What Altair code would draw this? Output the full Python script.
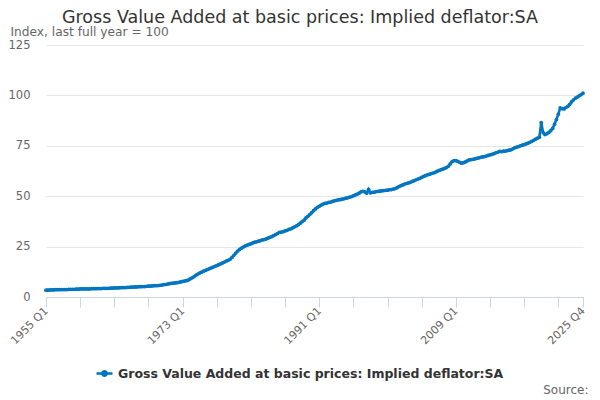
import altair as alt
import pandas as pd

# Quarterly values, one row of four per year (1955 .. 2025)
years = list(range(1955, 2026))
values_by_year = [
    [3.4, 3.4, 3.5, 3.5], [3.5, 3.6, 3.6, 3.6], [3.7, 3.7, 3.7, 3.7], [3.8, 3.8, 3.8, 3.8],
    [3.9, 3.9, 4.0, 4.0], [4.0, 4.0, 4.0, 4.0], [4.1, 4.1, 4.1, 4.2], [4.2, 4.2, 4.3, 4.3],
    [4.3, 4.3, 4.4, 4.4], [4.5, 4.5, 4.5, 4.6], [4.6, 4.7, 4.7, 4.8], [4.8, 4.9, 4.9, 5.0],
    [5.0, 5.1, 5.1, 5.2], [5.2, 5.3, 5.4, 5.4], [5.5, 5.6, 5.6, 5.7], [5.8, 5.9, 6.1, 6.2],
    [6.4, 6.6, 6.7, 6.9], [7.0, 7.1, 7.3, 7.5], [7.7, 7.9, 8.1, 8.4], [9.0, 9.5, 10.1, 10.8],
    [11.4, 11.9, 12.3, 12.8], [13.2, 13.6, 14.0, 14.4], [14.8, 15.2, 15.6, 16.0], [16.4, 16.9, 17.3, 17.8],
    [18.2, 18.7, 19.6, 20.7], [21.8, 22.8, 23.6, 24.3], [24.8, 25.3, 25.7, 26.1], [26.4, 26.8, 27.2, 27.4],
    [27.7, 28.0, 28.3, 28.5], [28.8, 29.2, 29.6, 30.0], [30.5, 31.0, 31.5, 32.1], [32.2, 32.4, 32.8, 33.1],
    [33.5, 33.8, 34.3, 34.8], [35.3, 35.9, 36.6, 37.4], [38.1, 39.2, 40.0, 40.9], [41.8, 42.8, 43.7, 44.5],
    [45.0, 45.6, 46.1, 46.5], [46.6, 46.9, 47.1, 47.4], [47.7, 47.9, 48.2, 48.3], [48.6, 48.7, 49.0, 49.2],
    [49.5, 49.8, 50.2, 50.6], [51.0, 51.5, 52.2, 52.4], [52.2, 51.5, 53.4, 51.7], [51.9, 52.0, 52.3, 52.4],
    [52.5, 52.7, 52.8, 52.9], [53.0, 53.2, 53.3, 53.5], [53.8, 54.2, 54.8, 55.2], [55.6, 56.0, 56.3, 56.6],
    [56.9, 57.3, 57.7, 58.1], [58.5, 58.9, 59.3, 59.8], [60.2, 60.6, 60.8, 61.2], [61.5, 61.8, 62.3, 62.7],
    [63.1, 63.4, 63.8, 64.2], [64.8, 66.0, 67.2, 67.6], [67.7, 67.3, 66.8, 66.4], [66.6, 67.0, 67.5, 68.0],
    [68.2, 68.3, 68.5, 68.8], [69.0, 69.3, 69.5, 69.6], [69.9, 70.2, 70.5, 70.7], [71.1, 71.5, 71.8, 72.2],
    [72.1, 72.3, 72.4, 72.6], [72.8, 73.0, 73.5, 74.0], [74.3, 74.6, 75.0, 75.3], [75.6, 75.9, 76.3, 76.7],
    [77.2, 77.7, 78.3, 78.8], [79.2, 86.5, 81.5, 80.6], [81.0, 81.6, 82.5, 83.6], [85.7, 88.0, 90.7, 93.8],
    [93.4, 93.3, 94.0, 94.6], [95.6, 96.8, 97.8, 98.6], [99.2, 99.8, 100.4, 101.1],
]
series_name = 'Gross Value Added at basic prices: Implied deflator:SA'
label_quarters = ['1955 Q1', '1973 Q1', '1991 Q1', '2009 Q1', '2025 Q4']
y_ticks = [0, 25, 50, 75, 100, 125]

quarters, vals = [], []
for yr, row in zip(years, values_by_year):
    for q, v in enumerate(row, start=1):
        quarters.append(f'{yr} Q{q}')
        vals.append(v)

df = pd.DataFrame({'quarter': quarters, 'value': vals, 'series': series_name})

tick_quarters = quarters[::18] + [quarters[-1]]
label_expr = "indexof(" + str(label_quarters) + ", datum.value) >= 0 ? datum.value : ''"

blue = '#0076c0'
legend_symbol = 'M-1,0H1M-0.28,0a0.28,0.28 0 1,0 0.56,0a0.28,0.28 0 1,0 -0.56,0'

chart = alt.Chart(df).mark_line(
    strokeWidth=2.6,
    point=alt.OverlayMarkDef(filled=True, size=14, color=blue)
).encode(
    x=alt.X('quarter:O', sort=None,
            scale=alt.Scale(type='point', padding=0),
            axis=alt.Axis(values=tick_quarters, labelExpr=label_expr,
                          labelAngle=-45, labelAlign='right', labelBaseline='middle',
                          labelColor='#666', labelFontSize=11, labelPadding=2,
                          tickColor='#ccd6eb', tickSize=10, domainColor='#ccd6eb',
                          labelOverlap=False,
                          title='Source:', titleX=542, titleY=96, titleAlign='right',
                          titleBaseline='alphabetic',
                          titleFontWeight='normal', titleColor='#666',
                          titleFontSize=12)),
    y=alt.Y('value:Q', scale=alt.Scale(domain=[0, 125], nice=False),
            axis=alt.Axis(values=y_ticks, domain=False, ticks=False,
                          gridColor='#e6e6e6', labelColor='#666', labelFontSize=11.5,
                          labelPadding=16,
                          title='Index, last full year = 100', titleAngle=0,
                          titleAlign='left', titleBaseline='alphabetic',
                          titleX=-36, titleY=-10, titleFontWeight='normal',
                          titleColor='#666', titleFontSize=12.2)),
    color=alt.Color('series:N', scale=alt.Scale(range=[blue]),
                    legend=alt.Legend(title=None, orient='none', legendX=49, legendY=319,
                                      symbolType=legend_symbol, symbolSize=256,
                                      symbolStrokeWidth=2.4, symbolFillColor=blue,
                                      labelFontSize=12.5, labelFontWeight='bold',
                                      labelColor='#333', labelLimit=500))
).properties(
    width=537,
    height=252,
    padding={'left': 38, 'top': 37, 'right': 8, 'bottom': 101},
    autosize=alt.AutoSizeParams(type='none'),
    title=alt.Title(series_name, anchor='start', frame='group', dx=16, dy=13,
                    fontSize=17.5, fontWeight='normal', color='#333', offset=12)
).configure(
    font='DejaVu Sans'
).configure_view(
    stroke=None
)

chart.save("out.html", embed_options={"renderer": "svg", "actions": False})
